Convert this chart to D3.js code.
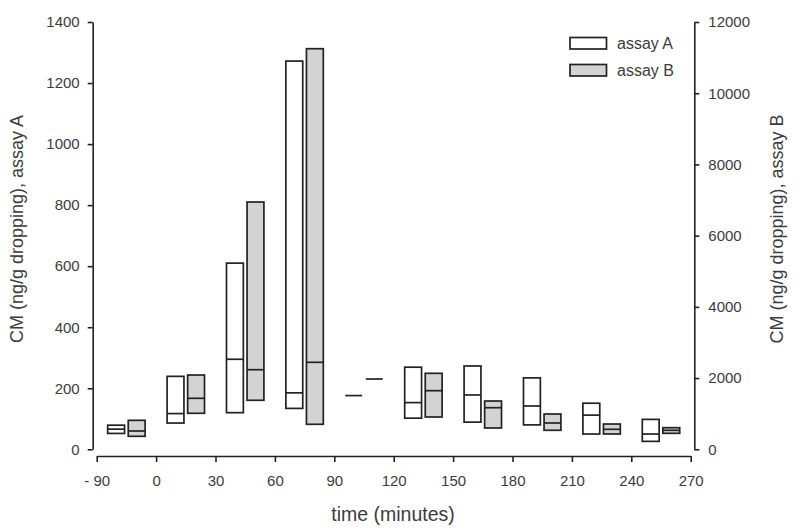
<!DOCTYPE html>
<html>
<head>
<meta charset="utf-8">
<script src="https://cdn.jsdelivr.net/npm/d3@7"></script>
<style>
  body { margin: 0; background: #fff; }
  svg { display: block; font-family: "Liberation Sans", Arial, sans-serif; }
</style>
</head>
<body>
<svg id="chart" width="800" height="530"></svg>
<script>
// ---- data ----
const groups = ["-90", "0", "30", "60", "90", "120", "150", "180", "210", "240"];
const tickLabels = ["- 90", "0", "30", "60", "90", "120", "150", "180", "210", "240", "270"];
const seriesNames = ["assay A", "assay B"];
// assay A (left axis)
const aLow  = [52, 86, 120, 134, 176, 102, 89, 80, 50, 26];
const aMed  = [66, 117, 295, 185, 176, 153, 178, 142, 112, 50];
const aHigh = [79, 239, 610, 1272, 176, 269, 273, 234, 151, 98];
// assay B (right axis)
const bLow  = [365, 1011, 1376, 702, 1974, 907, 598, 534, 430, 449];
const bMed  = [514, 1432, 2235, 2443, 1974, 1646, 1168, 739, 562, 534];
const bHigh = [814, 2086, 6945, 11250, 1974, 2134, 1356, 991, 710, 607];
const leftTicks = [0, 200, 400, 600, 800, 1000, 1200, 1400];
const rightTicks = [0, 2000, 4000, 6000, 8000, 10000, 12000];

const svg = d3.select("#chart");
const ink = "#222222";
const textCol = "#3c3c3c";
const grey = "#d3d3d3";

const x0 = 96.7, x1 = 690.7, yTop = 22, yBot = 449.3;

const xBand = d3.scaleBand().domain(groups).range([x0, x1]).paddingInner(0).paddingOuter(0);
const xSub = d3.scaleBand().domain(seriesNames).range([xBand.bandwidth() * 0.185, xBand.bandwidth() * 0.815]).paddingInner(0.18);
const xTicks = d3.scalePoint().domain(tickLabels).range([x0, x1]);
const yA = d3.scaleLinear().domain([0, 1400]).range([yBot, yTop]);
const yB = d3.scaleLinear().domain([0, 12000]).range([yBot, yTop]);

function styleAxis(g) {
  g.select(".domain").attr("stroke", ink).attr("stroke-width", 1.6);
  g.selectAll(".tick line").attr("stroke", ink).attr("stroke-width", 1.6);
  g.selectAll(".tick text").attr("fill", textCol).style("font-size", "15px")
    .style("font-family", '"Liberation Sans", Arial, sans-serif');
}

// left axis
svg.append("g").attr("transform", "translate(92.7,0)")
  .call(d3.axisLeft(yA).tickValues(leftTicks).tickSize(5).tickSizeOuter(0).tickPadding(8).tickFormat(d3.format("d")))
  .call(styleAxis);
// right axis
svg.append("g").attr("transform", "translate(694.3,0)")
  .call(d3.axisRight(yB).tickValues(rightTicks).tickSize(5).tickSizeOuter(0).tickPadding(9).tickFormat(d3.format("d")))
  .call(styleAxis);
// bottom axis
svg.append("g").attr("transform", "translate(0,456)")
  .call(d3.axisBottom(xTicks).tickSize(6).tickSizeOuter(0).tickPadding(13))
  .call(styleAxis);

// boxes
const rows = groups.map((g, i) => ({g, i}));
const series = [
  {name: "assay A", lo: aLow, me: aMed, hi: aHigh, y: yA, fill: "#ffffff"},
  {name: "assay B", lo: bLow, me: bMed, hi: bHigh, y: yB, fill: grey}
];
series.forEach(s => {
  const gs = svg.append("g");
  rows.forEach(r => {
    const xl = xBand(r.g) + xSub(s.name);
    const w = xSub.bandwidth();
    const top = s.y(s.hi[r.i]), bot = s.y(s.lo[r.i]);
    if (bot - top > 0.5) {
      gs.append("rect").attr("x", xl).attr("y", top).attr("width", w).attr("height", bot - top)
        .attr("fill", s.fill).attr("stroke", ink).attr("stroke-width", 1.7);
    }
    gs.append("line").attr("x1", xl).attr("x2", xl + w)
      .attr("y1", s.y(s.me[r.i])).attr("y2", s.y(s.me[r.i]))
      .attr("stroke", ink).attr("stroke-width", 1.7);
  });
});

// legend
const leg = svg.append("g");
seriesNames.forEach((n, i) => {
  leg.append("rect").attr("x", 570).attr("y", 37.5 + i * 27).attr("width", 36.5).attr("height", 11.5)
    .attr("fill", series[i].fill).attr("stroke", ink).attr("stroke-width", 1.7);
  leg.append("text").attr("x", 617).attr("y", 43.5 + i * 27).attr("dy", "0.35em")
    .attr("fill", textCol).style("font-size", "16px").text(n);
});

// axis titles
svg.append("text").attr("transform", "translate(23,229) rotate(-90)").attr("text-anchor", "middle")
  .attr("fill", textCol).style("font-size", "18px").text("CM (ng/g dropping), assay A");
svg.append("text").attr("transform", "translate(783,229) rotate(-90)").attr("text-anchor", "middle")
  .attr("fill", textCol).style("font-size", "18px").text("CM (ng/g dropping), assay B");
svg.append("text").attr("x", 393).attr("y", 521).attr("text-anchor", "middle")
  .attr("fill", textCol).style("font-size", "19.5px").text("time (minutes)");
</script>
</body>
</html>
